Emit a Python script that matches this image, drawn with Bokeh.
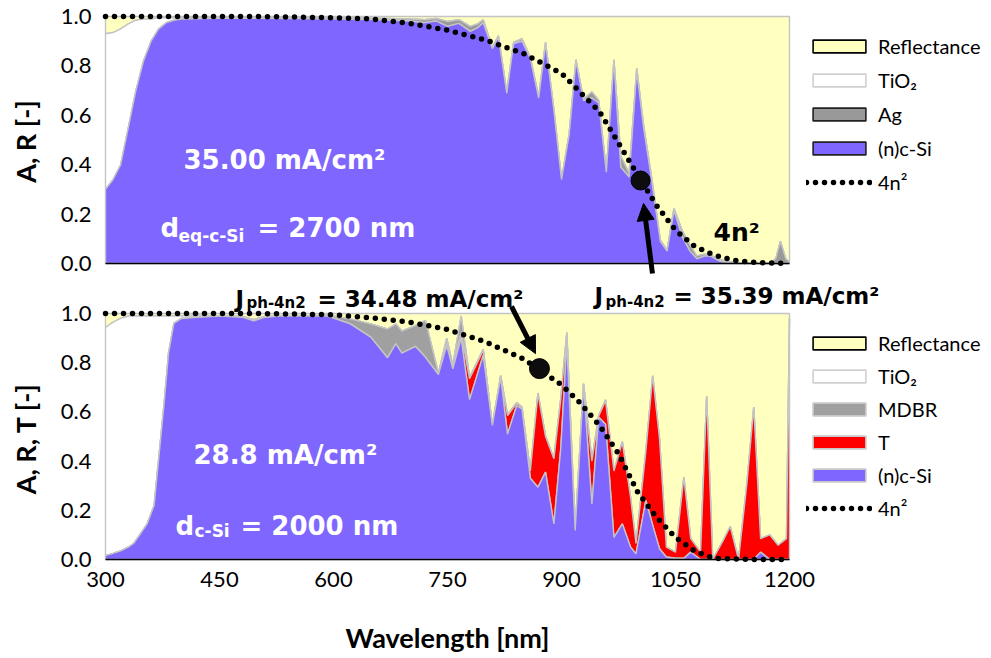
import numpy as np
from math import pi
from bokeh.plotting import figure
from bokeh.models import (Range1d, FixedTicker, NumeralTickFormatter, Label, Arrow,
                          NormalHead, Legend, LegendItem, LinearAxis)
from bokeh.embed import file_html
from bokeh.resources import INLINE

# ---------------- top panel data (A, R vs wavelength) ----------------
wl_top = [300, 310, 320, 330, 340, 350, 360, 370, 380, 390, 400,
          450, 500, 550, 600, 650, 700,
          720, 735, 750, 765, 780, 790, 797,
          809, 817, 828, 837, 848, 859, 870, 879, 890,
          900, 910, 919, 929, 940, 949, 959, 969, 978, 989, 999,
          1008, 1019, 1030, 1039, 1048, 1059, 1069, 1078, 1088, 1096,
          1108, 1118, 1130, 1145, 1160, 1175, 1182, 1188, 1195, 1200]
csi_top = [0.30, 0.34, 0.40, 0.55, 0.70, 0.82, 0.90, 0.95, 0.975, 0.985, 0.99,
           0.993, 0.993, 0.992, 0.99, 0.988, 0.982,
           0.975, 0.982, 0.96, 0.972, 0.94, 0.955, 0.975,
           0.87, 0.917, 0.69, 0.89, 0.90, 0.83, 0.67, 0.89, 0.62,
           0.34, 0.52, 0.82, 0.66, 0.67, 0.65, 0.37, 0.82, 0.39, 0.35, 0.78,
           0.55, 0.33, 0.09, 0.05, 0.215, 0.107, 0.05, 0.019, 0.03, 0.03,
           0.01, 0.005, 0.0, 0.0, 0.0, 0.0, 0.0, 0.0, 0.0, 0.0]
ag_top = [0.0, 0.0, 0.0, 0.0, 0.0, 0.0, 0.0, 0.0, 0.0, 0.0, 0.002,
          0.002, 0.002, 0.003, 0.005, 0.005, 0.008,
          0.012, 0.01, 0.02, 0.015, 0.02, 0.015, 0.012,
          0.005, 0.005, 0.003, 0.005, 0.01, 0.005, 0.003, 0.005, 0.003,
          0.002, 0.003, 0.005, 0.005, 0.025, 0.01, 0.003, 0.005, 0.045, 0.015, 0.01,
          0.01, 0.01, 0.005, 0.005, 0.008, 0.025, 0.025, 0.012, 0.008, 0.005,
          0.005, 0.004, 0.004, 0.003, 0.003, 0.003, 0.02, 0.09, 0.02, 0.005]
tio2_top = [0.63, 0.595, 0.55, 0.42, 0.285, 0.17, 0.09, 0.045, 0.02, 0.01, 0.005,
            0.0, 0.0, 0.0, 0.0, 0.0, 0.0,
            0.0, 0.0, 0.0, 0.0, 0.0, 0.0, 0.0,
            0.0, 0.0, 0.0, 0.0, 0.0, 0.0, 0.0, 0.0, 0.0,
            0.0, 0.0, 0.0, 0.0, 0.0, 0.0, 0.0, 0.0, 0.0, 0.0, 0.0,
            0.0, 0.0, 0.0, 0.0, 0.0, 0.0, 0.0, 0.0, 0.0, 0.0,
            0.0, 0.0, 0.0, 0.0, 0.0, 0.0, 0.0, 0.0, 0.0, 0.0]
wl_4n2_top = [300, 400, 500, 600, 650, 700, 750, 800, 850, 900, 950, 1000,
              1025, 1050, 1075, 1100, 1125, 1150, 1175, 1200]
lim_4n2_top = [1.0, 1.0, 1.0, 0.995, 0.99, 0.972, 0.945, 0.905, 0.85, 0.77, 0.615, 0.36,
               0.235, 0.135, 0.07, 0.035, 0.014, 0.005, 0.002, 0.0]
ball_top_wl = [1004]
ball_top_val = [0.336]

# ---------------- bottom panel data (A, R, T vs wavelength) ----------------
wl_bot = [300, 310, 320, 330, 337, 345, 355, 364, 370, 377, 383, 390, 400,
          420, 450, 480, 495, 510, 530, 560, 592,
          622, 649, 671, 682, 690, 708, 721, 738, 749, 757, 768, 779, 797,
          809, 820, 829, 841, 848, 859, 869, 879, 890, 899, 907, 918, 929, 940, 949, 958,
          969, 980, 991, 998,
          1011, 1020, 1029, 1038, 1050, 1061, 1070, 1083, 1091, 1099,
          1113, 1122, 1133, 1144, 1153, 1162, 1174, 1185, 1196, 1200]
csi_bot = [0.016, 0.025, 0.035, 0.05, 0.065, 0.10, 0.146, 0.22, 0.41, 0.63, 0.84, 0.96, 0.98,
           0.985, 0.99, 0.985, 0.97, 0.985, 0.99, 0.99, 0.99,
           0.958, 0.904, 0.82, 0.877, 0.839, 0.866, 0.822, 0.752, 0.87, 0.775, 0.90, 0.65, 0.83,
           0.545, 0.74, 0.51, 0.625, 0.612, 0.33, 0.294, 0.355, 0.145, 0.45, 0.88, 0.118, 0.707,
           0.226, 0.578, 0.55,
           0.09, 0.145, 0.05, 0.023,
           0.24, 0.14, 0.044, 0.01, 0.005, 0.005, 0.03, 0.0, 0.0, 0.0,
           0.0, 0.0, 0.0, 0.0, 0.0, 0.03, 0.0, 0.0, 0.0, 0.0]
t_bot = [0.0, 0.0, 0.0, 0.0, 0.0, 0.0, 0.0, 0.0, 0.0, 0.0, 0.0, 0.0, 0.0,
         0.0, 0.0, 0.0, 0.0, 0.0, 0.0, 0.0, 0.0,
         0.0, 0.0, 0.0, 0.0, 0.0, 0.0, 0.0, 0.0, 0.01, 0.01, 0.02, 0.085, 0.02,
         0.0, 0.005, 0.075, 0.01, 0.005, 0.03, 0.38, 0.145, 0.265, 0.2, 0.04, 0.0, 0.005,
         0.174, 0.005, 0.096,
         0.27, 0.332, 0.2, 0.042,
         0.2, 0.607, 0.446, 0.04, 0.025, 0.33, 0.055, 0.03, 0.664, 0.0,
         0.079, 0.134, 0.0, 0.31, 0.62, 0.055, 0.10, 0.058, 0.085, 0.98]
mdbr_bot = [0.0, 0.0, 0.0, 0.0, 0.0, 0.0, 0.0, 0.0, 0.0, 0.0, 0.0, 0.0, 0.0,
            0.003, 0.0, 0.003, 0.005, 0.003, 0.0, 0.0, 0.003,
            0.02, 0.054, 0.117, 0.08, 0.09, 0.085, 0.15, 0.005, 0.02, 0.005, 0.07, 0.005, 0.005,
            0.0, 0.003, 0.003, 0.003, 0.003, 0.0, 0.003, 0.003, 0.0, 0.003, 0.003, 0.0, 0.003,
            0.003, 0.003, 0.003,
            0.0, 0.003, 0.0, 0.0,
            0.0, 0.0, 0.0, 0.0, 0.0, 0.0, 0.0, 0.0, 0.0, 0.0,
            0.0, 0.0, 0.0, 0.0, 0.0, 0.0, 0.0, 0.0, 0.0, 0.0]
tio2_bot = [0.927, 0.94, 0.945, 0.94, 0.925, 0.89, 0.845, 0.77, 0.58, 0.36, 0.15, 0.03, 0.01,
            0.005, 0.0, 0.0, 0.0, 0.0, 0.0, 0.0, 0.0,
            0.0, 0.0, 0.0, 0.0, 0.0, 0.0, 0.0, 0.0, 0.0, 0.0, 0.0, 0.0, 0.0,
            0.0, 0.0, 0.0, 0.0, 0.0, 0.0, 0.0, 0.0, 0.0, 0.0, 0.0, 0.0, 0.0,
            0.0, 0.0, 0.0,
            0.0, 0.0, 0.0, 0.0,
            0.0, 0.0, 0.0, 0.0, 0.0, 0.0, 0.0, 0.0, 0.0, 0.0,
            0.0, 0.0, 0.0, 0.0, 0.0, 0.0, 0.0, 0.0, 0.0, 0.0]
wl_4n2_bot = [300, 400, 500, 600, 650, 700, 750, 800, 850, 900, 925, 950, 975, 1000,
              1025, 1050, 1075, 1100, 1150, 1200]
lim_4n2_bot = [1.0, 1.0, 1.0, 0.995, 0.982, 0.965, 0.935, 0.885, 0.815, 0.71, 0.635, 0.545,
               0.43, 0.275, 0.172, 0.09, 0.035, 0.005, 0.0, 0.0]
ball_bot_wl = [871]
ball_bot_val = [0.776]

x_ticks = [300, 450, 600, 750, 900, 1050, 1200]
y_ticks = [0.0, 0.2, 0.4, 0.6, 0.8, 1.0]

# ---------------- styles ----------------
PURPLE = "#7F66FF"
YELLOW = "#FFFFC0"
AGC = "#999999"
MDBRC = "#A0A0A0"
RED = "#FF0000"
EDGE = "#C4C4C4"
TXT = "DejaVu Sans"
TICKF = "Lato"
BOT = "bot"

# one canvas-wide frame; the two panels use two y scales
p = figure(width=991, height=658,
           x_range=Range1d(161.842, 1465.79), y_range=Range1d(-1.5992, 1.0648),
           x_axis_location=None, y_axis_location=None, min_border=0,
           output_backend="svg", toolbar_location=None)
p.extra_y_ranges = {BOT: Range1d(-0.4024, 2.2724)}
p.outline_line_color = None
p.grid.visible = False
p.background_fill_color = "white"
p.border_fill_color = "white"


def style_axis(ax):
    ax.axis_line_color = None
    ax.major_tick_line_color = None
    ax.minor_tick_line_color = None
    ax.major_tick_out = 0
    ax.major_tick_in = 0
    ax.major_label_text_font = TICKF
    ax.major_label_text_font_size = "22px"
    ax.major_label_text_color = "black"


for rng in ("default", BOT):
    ya = LinearAxis(y_range_name=rng, fixed_location=300,
                    ticker=FixedTicker(ticks=y_ticks),
                    formatter=NumeralTickFormatter(format="0.0"))
    style_axis(ya)
    ya.major_label_standoff = 14
    p.add_layout(ya, "left")

xa = LinearAxis(y_range_name=BOT, fixed_location=0, ticker=FixedTicker(ticks=x_ticks))
style_axis(xa)
xa.major_label_standoff = 12
p.add_layout(xa, "below")


def layer(wl, lo, hi, fill, rng):
    xs = list(wl) + list(wl[::-1])
    ys = list(hi) + list(lo[::-1])
    p.patch(xs, ys, fill_color=fill, line_color=EDGE, line_width=1.4, y_range_name=rng)


def lab(x, y, text, size, color="black", font=TXT, style="bold", angle=0.0,
        align="left", baseline="alphabetic", rng="default"):
    p.add_layout(Label(x=x, y=y, text=text, text_font=font, text_font_size=f"{size}px",
                       text_font_style=style, text_color=color, angle=angle,
                       text_align=align, text_baseline=baseline, y_range_name=rng))


def legend_for(entries, dots, loc, spacing):
    items = []
    for name, fill, line in entries:
        # legend-only proxy glyph: a single undefined (NaN) vertex draws nothing in the plot
        r = p.patch(x=[np.nan], y=[np.nan], fill_color=fill, line_color=line, line_width=1.6)
        items.append(LegendItem(label=name, renderers=[r]))
    items.append(LegendItem(label="4n²", renderers=[dots]))
    lg = Legend(items=items, location=loc, orientation="vertical",
                glyph_width=66, glyph_height=16, label_height=24, label_standoff=6,
                spacing=spacing, padding=0, margin=0, border_line_color=None,
                background_fill_alpha=0, label_text_font=TICKF,
                label_text_font_size="20px", label_text_color="black")
    p.add_layout(lg)


# ================= TOP panel =================
wlt = np.array(wl_top)
c1 = np.array(csi_top)
c2 = c1 + np.array(ag_top)
c3 = c2 + np.array(tio2_top)
layer(wlt, c3, np.ones_like(c1), YELLOW, "default")
layer(wlt, c2, c3, "white", "default")
layer(wlt, c1, c2, AGC, "default")
layer(wlt, np.zeros_like(c1), c1, PURPLE, "default")
p.line([wl_top[0], wl_top[-1]], [0, 0], line_color="black", line_width=1.6)
dots_t = p.line(wl_4n2_top, lim_4n2_top, line_color="black", line_width=5.5,
                line_dash="0 9", line_cap="round")
p.scatter(ball_top_wl, ball_top_val, size=19, fill_color="#0d0d0d", line_color="#000000")
p.add_layout(Arrow(end=NormalHead(size=17, fill_color="black", line_color="black"),
                   x_start=1019.7, y_start=-0.0405, x_end=1007.9, y_end=0.243,
                   line_width=5, line_color="black"))

lab(402.6, 0.42, "35.00 mA/cm²", 26, "white")
lab(372.4, 0.142, "d", 26, "white")
lab(396.0, 0.113, "eq-c-Si", 17, "white")
lab(500.0, 0.142, "= 2700 nm", 26, "white")
lab(1100.0, 0.127, "4n²", 25, "black")
lab(471.1, -0.1417, "J", 23)
lab(485.5, -0.161, "ph-4n2", 15)
lab(578.9, -0.1417, "= 34.48 mA/cm²", 23)
lab(943.4, -0.1296, "J", 23)
lab(957.9, -0.157, "ph-4n2", 15)
lab(1047.4, -0.1296, "= 35.39 mA/cm²", 23)
lab(194.7, 0.494, "A, R [-]", 27, font=TICKF, angle=pi / 2, align="center",
    baseline="middle")

legend_for([("Reflectance", YELLOW, "#000000"), ("TiO₂", "white", "#D0D0D0"),
            ("Ag", AGC, "#222222"), ("(n)c-Si", PURPLE, "#222222")],
           dots_t, (806, 464), 10)

# ================= BOTTOM panel =================
wlb = np.array(wl_bot)
b1 = np.array(csi_bot)
b2 = b1 + np.array(t_bot)
b3 = b2 + np.array(mdbr_bot)
b4 = b3 + np.array(tio2_bot)
layer(wlb, b4, np.ones_like(b1), YELLOW, BOT)
layer(wlb, b3, b4, "white", BOT)
layer(wlb, b2, b3, MDBRC, BOT)
layer(wlb, b1, b2, RED, BOT)
layer(wlb, np.zeros_like(b1), b1, PURPLE, BOT)
p.line([wl_bot[0], wl_bot[-1]], [0, 0], line_color="black", line_width=1.6, y_range_name=BOT)
dots_b = p.line(wl_4n2_bot, lim_4n2_bot, line_color="black", line_width=5.5,
                line_dash="0 9", line_cap="round", y_range_name=BOT)
p.scatter(ball_bot_wl, ball_bot_val, size=20, fill_color="#0d0d0d", line_color="#000000",
          y_range_name=BOT)
p.add_layout(Arrow(end=NormalHead(size=17, fill_color="black", line_color="black"),
                   x_start=834.2, y_start=1.0285, x_end=865.8, y_end=0.837,
                   line_width=5, line_color="black", y_range_name=BOT))

lab(415.8, 0.423, "28.8 mA/cm²", 26, "white", rng=BOT)
lab(392.1, 0.138, "d", 26, "white", rng=BOT)
lab(417.1, 0.114, "c-Si", 17, "white", rng=BOT)
lab(477.6, 0.138, "= 2000 nm", 26, "white", rng=BOT)
lab(194.7, 0.492, "A, R, T [-]", 27, font=TICKF, angle=pi / 2, align="center",
    baseline="middle", rng=BOT)
lab(750.0, -0.317, "Wavelength [nm]", 27, font=TICKF, align="center", baseline="middle",
    rng=BOT)

legend_for([("Reflectance", YELLOW, "#000000"), ("TiO₂", "white", "#D0D0D0"),
            ("MDBR", MDBRC, "#C8C8C8"), ("T", RED, "#C8C8C8"),
            ("(n)c-Si", PURPLE, "#C8C8C8")],
           dots_b, (806, 138), 9)

open("out.html", "w").write(file_html(p, INLINE))
